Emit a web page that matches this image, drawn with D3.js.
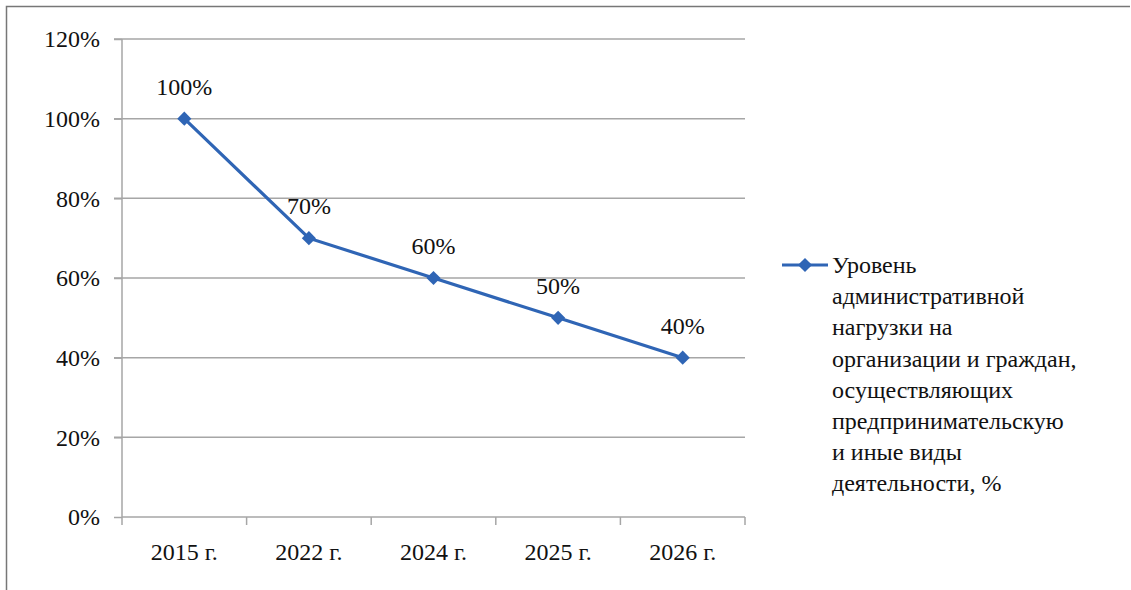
<!DOCTYPE html>
<html><head><meta charset="utf-8">
<script src="https://cdn.jsdelivr.net/npm/d3@7"></script>
<style>body{margin:0;background:#fff;}svg{display:block;}</style>
</head><body>
<svg id="c" width="1131" height="590"></svg>
<script>
const categories = ["2015 г.", "2022 г.", "2024 г.", "2025 г.", "2026 г."];
const values = [1.00, 0.70, 0.60, 0.50, 0.40];
const yTicks = [0, 0.2, 0.4, 0.6, 0.8, 1.0, 1.2];
const legendLines = ["Уровень", "административной", "нагрузки на", "организации и граждан,", "осуществляющих", "предпринимательскую", "и иные виды", "деятельности, %"];

const svg = d3.select("#c");
const color = "#2f65b5";
const L = 122, R = 745, T = 39, B = 517;
const FF = "Times New Roman, Liberation Serif, Tinos, serif";
function styleText(sel) {
  sel.attr("font-family", FF).style("font-family", "'Times New Roman', 'Liberation Serif', Tinos, serif")
     .attr("font-size", 24).attr("fill", "#111");
  return sel;
}

// outer border (top + left)
svg.append("path").attr("d", "M6.5,590 V6.5 H1130").attr("fill", "none").attr("stroke", "#777").attr("stroke-width", 1.5);

const x = d3.scaleBand().domain(categories).range([L, R]);
const y = d3.scaleLinear().domain([0, 1.2]).range([B, T]);

// gridlines
svg.append("g").selectAll("line").data(yTicks.filter(d => d > 0)).join("line")
  .attr("x1", L - 8).attr("x2", R).attr("y1", d => y(d)).attr("y2", d => y(d))
  .attr("stroke", "#a6a6a6").attr("stroke-width", 1.5);

// y axis
const ya = svg.append("g").attr("transform", `translate(${L},0)`)
  .call(d3.axisLeft(y).tickValues(yTicks).tickFormat(d3.format(".0%")).tickSize(8).tickPadding(14));
ya.attr("font-family", FF);
ya.select(".domain").attr("stroke", "#a6a6a6").attr("stroke-width", 1.5).attr("d", `M0,${T}V${B}`);
ya.selectAll(".tick line").attr("stroke", "#a6a6a6").attr("stroke-width", 1.5);
styleText(ya.selectAll("text"));

// x axis
const xa = svg.append("g").attr("transform", `translate(0,${B})`)
  .call(d3.axisBottom(x).tickSize(0).tickPadding(26));
xa.attr("font-family", FF);
xa.select(".domain").attr("stroke", "#a6a6a6").attr("stroke-width", 1.5).attr("d", `M${L},0H${R}`);
styleText(xa.selectAll("text"));
// category boundary ticks
const bounds = categories.map(c => x(c)).concat([R]);
svg.append("g").selectAll("line").data(bounds).join("line")
  .attr("x1", d => d).attr("x2", d => d).attr("y1", B).attr("y2", B + 8)
  .attr("stroke", "#a6a6a6").attr("stroke-width", 1.5);

// line
const cx = i => x(categories[i]) + x.bandwidth() / 2;
const line = d3.line().x((d, i) => cx(i)).y(d => y(d));
svg.append("path").datum(values).attr("d", line).attr("fill", "none")
  .attr("stroke", color).attr("stroke-width", 3.2);

const diamond = d3.symbol().type(d3.symbolSquare).size(100);
svg.append("g").selectAll("path").data(values).join("path")
  .attr("d", diamond).attr("fill", color)
  .attr("transform", (d, i) => `translate(${cx(i)},${y(d)}) rotate(45)`);

// data labels
styleText(svg.append("g").selectAll("text").data(values).join("text")
  .attr("x", (d, i) => cx(i)).attr("y", d => y(d) - 24)
  .attr("text-anchor", "middle")
  .text(d3.format(".0%")));

// legend
const lg = svg.append("g");
lg.append("line").attr("x1", 782).attr("x2", 828).attr("y1", 265).attr("y2", 265)
  .attr("stroke", color).attr("stroke-width", 3.2);
lg.append("path").attr("d", diamond).attr("fill", color).attr("transform", "translate(805,265) rotate(45)");
styleText(lg.selectAll("text").data(legendLines).join("text")
  .attr("x", 832).attr("y", (d, i) => 273 + i * 31.2)
  .text(d => d));
</script>
</body></html>
